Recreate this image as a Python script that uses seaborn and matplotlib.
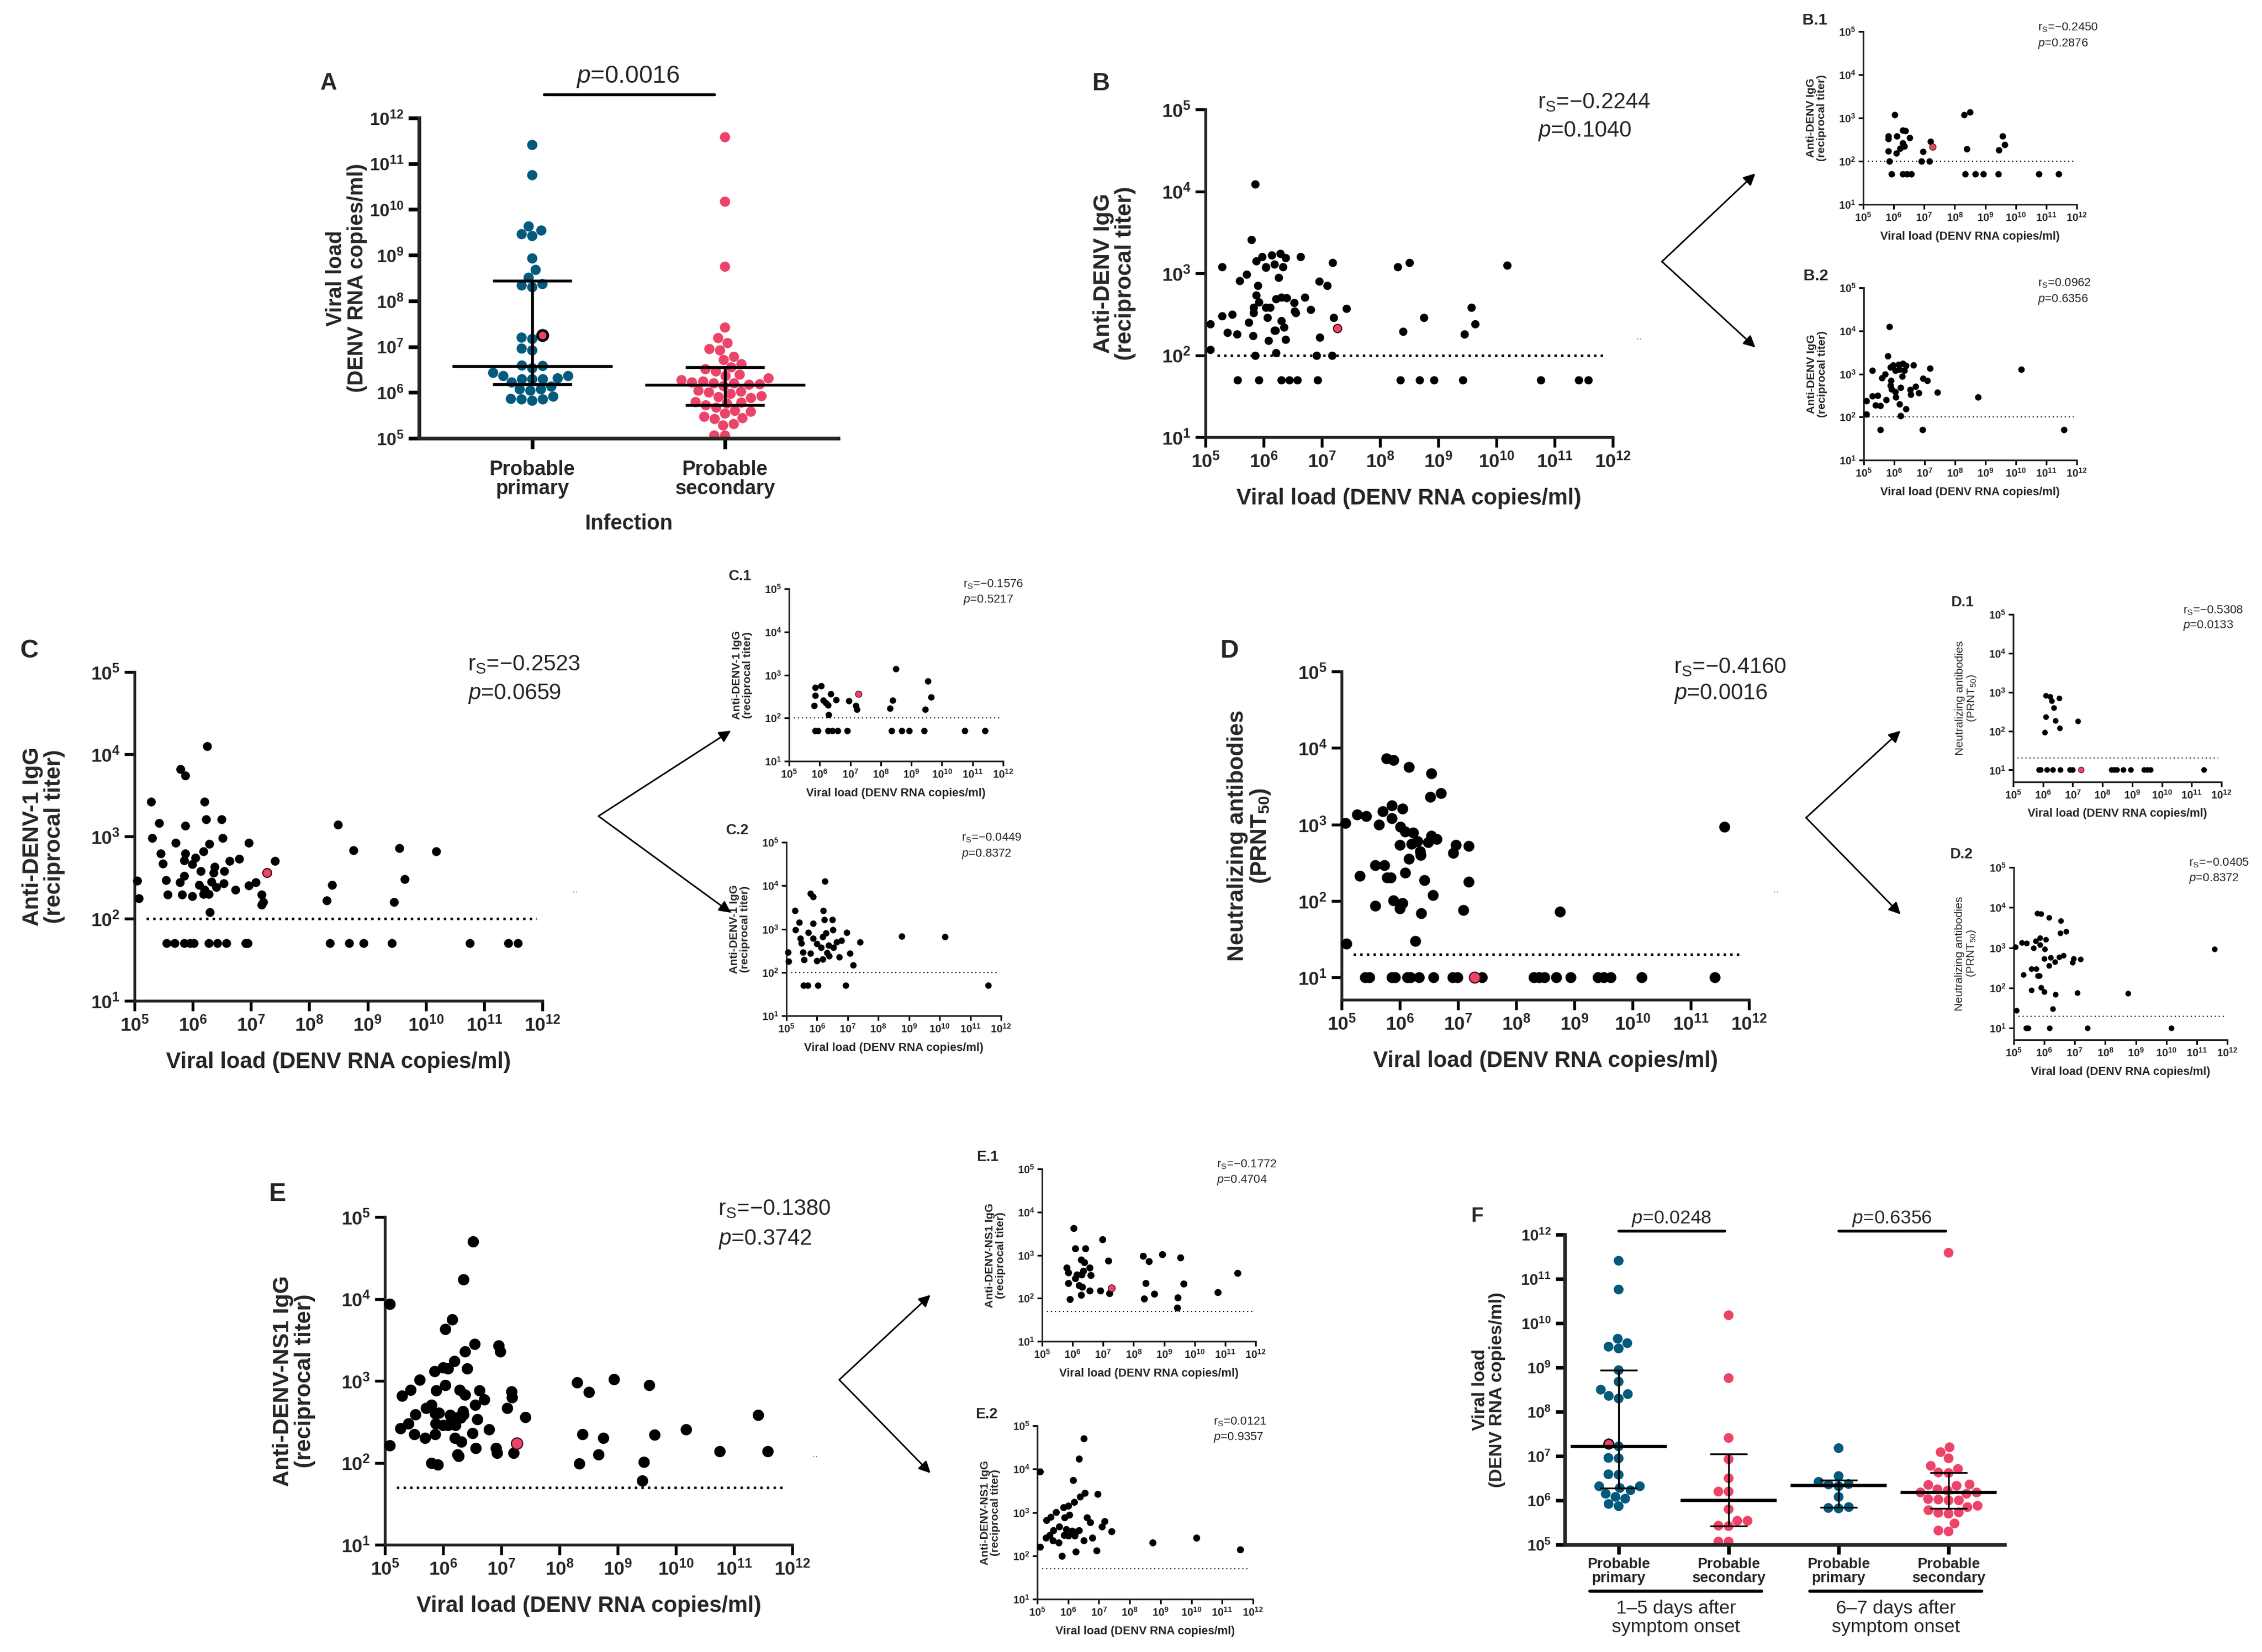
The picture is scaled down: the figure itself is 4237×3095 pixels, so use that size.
import numpy as np
import pandas as pd
import seaborn as sns
import matplotlib.pyplot as plt
from matplotlib.ticker import FixedLocator, FuncFormatter, NullLocator

W, H, DPI = 4237, 3095, 300
BLUE = "#045a7c"
PINK = "#ec4468"

# ---------------- data (log10 values) ----------------
# Panel A: viral load by infection type
a_primary = [11.41, 10.75, 9.63, 9.54, 9.46, 9.42, 8.93, 8.68, 8.51, 8.37, 8.34, 8.30,
             7.20, 7.17, 6.96, 6.92, 6.59, 6.58, 6.53, 6.43, 6.36, 6.36, 6.31, 6.29,
             6.29, 6.29, 6.22, 6.13, 6.07, 6.07, 6.04, 5.91, 5.86, 5.85, 5.85, 5.82]
a_case = 7.25
a_secondary = [11.58, 10.17, 8.75, 7.42, 7.19, 7.08, 6.95, 6.92, 6.78, 6.71, 6.62, 6.55,
               6.51, 6.46, 6.39, 6.36, 6.31, 6.27, 6.24, 6.22, 6.18, 6.17, 6.14, 6.04,
               6.02, 6.00, 5.97, 5.88, 5.79, 5.78, 5.76, 5.72, 5.67, 5.60, 5.58, 5.54,
               5.47, 5.42, 5.44, 5.31, 5.28, 5.06, 5.06, 6.20, 6.20, 5.90, 5.92]

# Panel F: viral load by day group
f_p15 = [11.41, 10.76, 9.65, 9.55, 9.47, 9.43, 8.94, 8.68, 8.50, 8.40, 8.36, 8.30, 7.22,
         6.95, 6.96, 6.59, 6.58, 6.28, 6.32, 6.32, 6.23, 6.15, 6.08, 6.04, 5.92, 5.87]
f_case = 7.28
f_s15 = [10.18, 8.76, 7.41, 6.93, 6.50, 6.20, 6.20, 5.80, 5.54, 5.54, 5.42, 5.43, 5.07, 5.07]
f_p67 = [7.18, 6.55, 6.32, 6.42, 6.36, 6.37, 6.08, 5.82, 5.85, 5.83]
f_s67 = [11.59, 7.20, 7.09, 6.95, 6.78, 6.71, 6.63, 6.62, 6.36, 6.33, 6.35, 6.25, 6.22,
         6.18, 6.18, 6.15, 6.03, 6.02, 6.00, 6.00, 5.88, 5.85, 5.78, 5.73, 5.72, 5.70,
         5.48, 5.30, 5.32]

# B.1 / B.2 anti-DENV IgG (x = viral load, y = titer)
b1_x = [6.04, 5.83, 5.83, 6.11, 6.30, 6.39, 6.53, 6.30, 6.35, 6.20, 6.08, 5.82, 5.85,
        6.96, 6.91, 7.20, 7.17, 8.30, 8.50, 8.39, 9.57, 9.63, 9.45, 5.92, 6.30, 6.44,
        6.58, 8.35, 8.68, 8.93, 9.42, 10.76, 11.41]
b1_y = [3.07, 2.58, 2.52, 2.58, 2.71, 2.70, 2.54, 2.42, 2.34, 2.30, 2.18, 2.24, 2.00,
        2.22, 2.00, 2.46, 2.00, 3.08, 3.13, 2.29, 2.58, 2.38, 2.26, 1.70, 1.70, 1.70,
        1.70, 1.70, 1.70, 1.70, 1.70, 1.70, 1.70]
b1_case = (7.27, 2.33)
b2_x = [5.85, 5.79, 5.28, 5.97, 6.14, 6.28, 6.38, 6.63, 5.87, 6.04, 6.18, 6.33, 7.18,
        5.71, 5.59, 6.26, 6.95, 7.09, 5.90, 5.87, 6.71, 6.21, 5.92, 6.04, 6.52, 6.81,
        6.55, 7.42, 5.28, 5.46, 6.06, 5.74, 5.08, 5.38, 5.54, 6.18, 6.38, 5.08, 6.21,
        8.75, 10.18, 5.55, 6.93, 11.58]
b2_y = [4.09, 3.41, 3.08, 3.20, 3.22, 3.24, 3.19, 3.20, 3.15, 3.08, 3.11, 3.08, 3.13,
        2.99, 2.91, 2.95, 2.90, 2.85, 2.85, 2.73, 2.71, 2.69, 2.65, 2.58, 2.64, 2.56,
        2.52, 2.57, 2.48, 2.50, 2.46, 2.40, 2.38, 2.28, 2.26, 2.30, 2.19, 2.07, 2.03,
        2.46, 3.10, 1.70, 1.70, 1.70]

# C.1 / C.2 anti-DENV-1 IgG
c1_x = [5.85, 6.04, 5.85, 5.82, 6.11, 6.20, 6.27, 6.36, 6.53, 6.29, 6.96, 7.18, 7.21,
        8.49, 8.39, 8.30, 9.54, 9.64, 9.45, 5.85, 5.95, 6.27, 6.42, 6.58, 6.91, 8.35,
        8.68, 8.93, 9.42, 10.75, 11.41]
c1_y = [2.71, 2.74, 2.52, 2.29, 2.41, 2.35, 2.30, 2.56, 2.43, 2.08, 2.40, 2.29, 2.20,
        3.14, 2.41, 2.22, 2.86, 2.48, 2.20, 1.70, 1.70, 1.70, 1.70, 1.70, 1.70, 1.70,
        1.70, 1.70, 1.70, 1.70, 1.70]
c1_case = (7.27, 2.56)
c2_x = [6.25, 5.79, 5.87, 5.28, 6.20, 5.42, 6.23, 6.49, 5.87, 5.30, 6.51, 5.71, 6.28,
        6.96, 5.45, 5.87, 6.18, 6.80, 5.49, 5.99, 6.14, 6.37, 6.54, 6.63, 7.41, 5.54,
        5.78, 6.32, 6.40, 6.73, 7.08, 5.05, 5.07, 5.57, 5.99, 6.18, 7.18, 8.76, 10.18,
        5.55, 5.69, 6.02, 6.94, 11.58]
c2_y = [4.10, 3.82, 3.74, 3.42, 3.42, 3.16, 3.21, 3.21, 3.13, 2.98, 2.98, 2.92, 2.91,
        2.92, 2.79, 2.79, 2.82, 2.73, 2.67, 2.66, 2.58, 2.63, 2.58, 2.70, 2.70, 2.47,
        2.44, 2.45, 2.38, 2.35, 2.44, 2.46, 2.25, 2.29, 2.27, 2.30, 2.17, 2.83, 2.82,
        1.70, 1.70, 1.70, 1.70, 1.70]

# D.1 / D.2 neutralizing antibodies (PRNT50)
d1_x = [6.09, 6.23, 6.30, 6.54, 6.36, 6.09, 6.42, 6.57, 6.05, 7.18, 5.86, 5.92, 6.13,
        6.33, 6.58, 6.91, 6.99, 8.30, 8.39, 8.49, 8.69, 8.94, 9.40, 9.50, 9.62, 11.41]
d1_y = [2.91, 2.89, 2.78, 2.85, 2.60, 2.37, 2.27, 2.08, 1.97, 2.25, 1.00, 1.00, 1.00,
        1.00, 1.00, 1.00, 1.00, 1.00, 1.00, 1.00, 1.00, 1.00, 1.00, 1.00, 1.00, 1.00]
d1_case = (7.28, 1.00)
d2_x = [5.77, 5.89, 6.16, 6.54, 6.52, 6.71, 5.27, 5.42, 5.71, 5.86, 6.05, 5.86, 5.06,
        5.64, 6.01, 6.00, 6.20, 6.49, 6.63, 6.35, 6.96, 6.92, 7.18, 6.16, 5.58, 5.73,
        5.31, 5.78, 5.84, 5.58, 5.89, 6.00, 6.37, 7.09, 8.75, 6.27, 5.08, 11.58, 5.40,
        5.48, 6.18, 7.41, 10.16]
d2_y = [3.86, 3.84, 3.75, 3.67, 3.36, 3.41, 3.13, 3.11, 3.17, 3.25, 3.21, 3.08, 3.02,
        3.00, 2.97, 2.73, 2.75, 2.77, 2.81, 2.65, 2.73, 2.63, 2.72, 2.55, 2.47, 2.47,
        2.33, 2.31, 2.31, 1.94, 2.01, 1.90, 1.84, 1.88, 1.86, 1.48, 1.44, 2.97, 1.00,
        1.00, 1.00, 1.00, 1.00]

# E.1 / E.2 anti-DENV-NS1 IgG
e1_x = [6.04, 6.08, 6.41, 6.98, 7.17, 6.28, 6.38, 5.80, 5.86, 6.14, 6.34, 6.55, 6.30,
        6.08, 6.59, 5.86, 6.20, 6.31, 6.56, 6.91, 6.27, 7.21, 5.91, 8.30, 8.50, 8.94,
        8.39, 8.34, 8.67, 9.54, 9.63, 9.45, 9.42, 10.75, 11.41]
e1_y = [3.63, 3.15, 3.15, 3.36, 2.87, 2.89, 2.83, 2.71, 2.60, 2.55, 2.63, 2.71, 2.55,
        2.46, 2.53, 2.35, 2.30, 2.26, 2.18, 2.18, 2.08, 2.12, 1.98, 2.98, 2.86, 3.02,
        2.35, 1.99, 2.10, 2.95, 2.34, 2.01, 1.78, 2.14, 2.58]
e1_case = (7.27, 2.24)
e2_x = [6.51, 6.35, 5.08, 6.16, 6.54, 6.38, 6.95, 6.19, 6.00, 5.85, 5.60, 6.04, 5.88,
        5.44, 5.29, 6.62, 6.71, 7.18, 7.10, 7.41, 5.71, 5.52, 5.93, 6.12, 6.24, 6.35,
        5.40, 5.87, 6.00, 6.21, 5.27, 5.50, 5.69, 6.50, 6.79, 5.08, 6.25, 6.93, 5.80,
        8.75, 10.17, 11.58]
e2_y = [4.70, 4.24, 3.94, 3.75, 3.45, 3.36, 3.43, 3.24, 3.16, 3.12, 3.01, 2.95, 2.88,
        2.89, 2.82, 2.88, 2.77, 2.80, 2.67, 2.56, 2.67, 2.59, 2.61, 2.58, 2.55, 2.59,
        2.48, 2.48, 2.46, 2.46, 2.42, 2.35, 2.30, 2.36, 2.41, 2.21, 2.10, 2.12, 2.00,
        2.30, 2.41, 2.14]

# Spearman results printed on each panel
stats = {
    "B": ("\u22120.2244", "0.1040"), "B.1": ("\u22120.2450", "0.2876"), "B.2": ("0.0962", "0.6356"),
    "C": ("\u22120.2523", "0.0659"), "C.1": ("\u22120.1576", "0.5217"), "C.2": ("\u22120.0449", "0.8372"),
    "D": ("\u22120.4160", "0.0016"), "D.1": ("\u22120.5308", "0.0133"), "D.2": ("\u22120.0405", "0.8372"),
    "E": ("\u22120.1380", "0.3742"), "E.1": ("\u22120.1772", "0.4704"), "E.2": ("0.0121", "0.9357"),
}

# ---------------- style ----------------
sns.set_style("ticks")
plt.rcParams["font.family"] = ["Liberation Sans", "DejaVu Sans"]
plt.rcParams["mathtext.fontset"] = "custom"
plt.rcParams["mathtext.rm"] = "Liberation Sans"
plt.rcParams["mathtext.it"] = "Liberation Sans:italic"
plt.rcParams["mathtext.bf"] = "Liberation Sans:bold"

fig = plt.figure(figsize=(W / DPI, H / DPI), dpi=DPI, facecolor="white")


def box(l, r, t, b):
    return [l / W, 1 - b / H, (r - l) / W, (b - t) / H]


decade = FuncFormatter(lambda v, pos: r"$\mathbf{10^{%d}}$" % int(round(np.log10(v))))


def style_axis(ax, lab, lw, ln, pad):
    sns.despine(ax=ax)
    for s in ("left", "bottom"):
        ax.spines[s].set_linewidth(lw)
    ax.tick_params(labelsize=lab, width=lw, length=ln, pad=pad, color="black")


def scatter_panel(px, xs, ys, case, cutoff, ylabel, size, main, ybottom=1.0, ybold=True):
    ax = fig.add_axes(box(*px))
    ax.set_xscale("log")
    ax.set_yscale("log")
    pts = pd.DataFrame({"load": 10.0 ** np.asarray(xs), "titer": 10.0 ** np.asarray(ys)})
    sns.scatterplot(data=pts, x="load", y="titer", color="black", s=size, linewidth=0,
                    ax=ax, zorder=3, clip_on=False)
    if case is not None:
        sns.scatterplot(x=[10.0 ** case[0]], y=[10.0 ** case[1]], color=PINK, s=size,
                        edgecolor="#3a0a14", linewidth=0.5 if main else 0.3, ax=ax,
                        zorder=4, clip_on=False)
    ax.set_xlim(1e5, 1e12)
    ax.set_ylim(10.0 ** ybottom, 1e5)
    ax.xaxis.set_major_locator(FixedLocator(10.0 ** np.arange(5, 13)))
    ax.yaxis.set_major_locator(FixedLocator(10.0 ** np.arange(1, 6)))
    ax.xaxis.set_minor_locator(NullLocator())
    ax.yaxis.set_minor_locator(NullLocator())
    ax.xaxis.set_major_formatter(decade)
    ax.yaxis.set_major_formatter(decade)
    if main:
        ax.hlines(cutoff, 10 ** 5.2, 10 ** 11.9, colors="black", lw=1.1,
                  linestyles=(0, (1, 1.7)), zorder=2)
        style_axis(ax, 8.5, 1.3, 4.5, 2)
        ax.set_xlabel("Viral load (DENV RNA copies/ml)", fontsize=10, fontweight="bold")
        ax.set_ylabel(ylabel, fontsize=10.3, fontweight="bold", linespacing=1.05)
    else:
        ax.hlines(cutoff, 10 ** 5.15, 10 ** 11.9, colors="black", lw=0.5,
                  linestyles=(0, (1, 2.6)), zorder=2)
        style_axis(ax, 4.8, 0.75, 2.2, 1.2)
        ax.set_xlabel("Viral load (DENV RNA copies/ml)", fontsize=5.2, fontweight="bold")
        ax.set_ylabel(ylabel, fontsize=5.1, fontweight="bold" if ybold else "normal",
                      linespacing=1.05)
    ax.yaxis.set_label_coords(-0.17, 0.5)
    ax.xaxis.set_label_coords(0.5, -0.155)
    return ax


def median_iqr(ax, i, logs, half_med, half_cap, lw_med, lw_iqr):
    q1, med, q3 = 10.0 ** np.percentile(logs, [25, 50, 75], method="weibull")
    ax.hlines(med, i - half_med, i + half_med, color="black", lw=lw_med, zorder=5)
    ax.hlines([q1, q3], i - half_cap, i + half_cap, color="black", lw=lw_iqr, zorder=5)
    ax.vlines(i, q1, q3, color="black", lw=lw_iqr, zorder=5)


def log_axis(ax, lo, hi):
    ax.set_ylim(10.0 ** lo, 10.0 ** hi)
    ax.yaxis.set_major_locator(FixedLocator(10.0 ** np.arange(lo, hi + 1)))
    ax.yaxis.set_minor_locator(NullLocator())
    ax.yaxis.set_major_formatter(decade)


# ---------------- panel A ----------------
axA = fig.add_axes(box(785, 1570, 221, 821))
a_df = pd.DataFrame({
    "group": ["pri"] * (len(a_primary) + 1) + ["sec"] * len(a_secondary),
    "load": 10.0 ** np.r_[a_primary, [a_case], a_secondary],
    "colour": ["primary"] * len(a_primary) + ["case"] + ["secondary"] * len(a_secondary),
})
sns.swarmplot(data=a_df, x="group", y="load", hue="colour", order=["pri", "sec"],
              palette={"primary": BLUE, "secondary": PINK, "case": PINK}, size=4.6,
              linewidth=0, log_scale=True, legend=False, ax=axA, zorder=2)
axA.set_xlim(-0.587, 1.587)
log_axis(axA, 5, 12)
median_iqr(axA, 0, a_primary + [a_case], 0.415, 0.205, 1.3, 1.3)
median_iqr(axA, 1, a_secondary, 0.415, 0.205, 1.3, 1.3)
style_axis(axA, 8, 1.7, 4.8, 2)
axA.set_xticks([0, 1])
axA.set_xticklabels(["Probable\nprimary", "Probable\nsecondary"], fontsize=9,
                    fontweight="bold", linespacing=1.0)
axA.tick_params(axis="x", pad=5)
axA.set_xlabel("Infection", fontsize=9.5, fontweight="bold")
axA.xaxis.set_label_coords(0.5, -0.235)
axA.set_ylabel("Viral load\n(DENV RNA copies/ml)", fontsize=9.6, fontweight="bold",
               linespacing=1.05)
axA.yaxis.set_label_coords(-0.124, 0.5)
tA = axA.get_xaxis_transform()
axA.plot([0.06, 0.945], [1.073, 1.073], transform=tA, color="black", lw=1.3, clip_on=False)
axA.text(0.496, 1.128, r"$\mathit{p}$=0.0016", transform=tA, ha="center", va="center",
         fontsize=11)

# ---------------- panel F ----------------
axF = fig.add_axes(box(2931, 3755, 2313, 2894))
groups = ["p15", "s15", "p67", "s67"]
f_vals = [f_p15 + [f_case], f_s15, f_p67, f_s67]
f_df = pd.DataFrame({
    "group": sum([[g] * len(v) for g, v in zip(groups, f_vals)], []),
    "load": 10.0 ** np.concatenate(f_vals),
    "colour": ["primary"] * len(f_p15) + ["case"] + ["secondary"] * len(f_s15)
              + ["primary"] * len(f_p67) + ["secondary"] * len(f_s67),
})
sns.swarmplot(data=f_df, x="group", y="load", hue="colour", order=groups,
              palette={"primary": BLUE, "secondary": PINK, "case": PINK}, size=4.4,
              linewidth=0, log_scale=True, legend=False, ax=axF, zorder=2)
axF.set_xlim(-0.49, 3.51)
log_axis(axF, 5, 12)
for i, v in enumerate(f_vals):
    median_iqr(axF, i, v, 0.435, 0.17, 1.5, 0.8)
style_axis(axF, 7, 1.6, 4.2, 2)
axF.set_xticks(range(4))
axF.set_xticklabels(["Probable\nprimary", "Probable\nsecondary"] * 2, fontsize=6.6,
                    fontweight="bold", linespacing=1.0)
axF.tick_params(axis="x", pad=1.5)
axF.set_xlabel("")
axF.set_ylabel("Viral load\n(DENV RNA copies/ml)", fontsize=8.2, fontweight="bold",
               linespacing=1.05)
axF.yaxis.set_label_coords(-0.135, 0.5)
tF = axF.get_xaxis_transform()
for (x0, x1), ptxt in zip([(0.0, 0.96), (2.0, 2.97)], ["0.0248", "0.6356"]):
    axF.plot([x0, x1], [1.012, 1.012], transform=tF, color="black", lw=1.3, clip_on=False)
    axF.text((x0 + x1) / 2, 1.05, r"$\mathit{p}$=" + ptxt, transform=tF, ha="center",
             va="center", fontsize=8.5)
for (x0, x1), gtxt in zip([(-0.26, 1.30), (1.74, 3.30)],
                          ["1\u20135 days after\nsymptom onset", "6\u20137 days after\nsymptom onset"]):
    axF.plot([x0, x1], [-0.15, -0.15], transform=tF, color="black", lw=1.4, clip_on=False)
    axF.text((x0 + x1) / 2, -0.236, gtxt, transform=tF, ha="center", va="center",
             fontsize=8.5, linespacing=1.05)

# ---------------- scatter panels ----------------
lab_b = "Anti-DENV IgG\n(reciprocal titer)"
lab_c = "Anti-DENV-1 IgG\n(reciprocal titer)"
lab_d = "Neutralizing antibodies\n(PRNT$_{\\mathbf{50}}$)"
lab_d_sub = "Neutralizing antibodies\n(PRNT$_{50}$)"
lab_e = "Anti-DENV-NS1 IgG\n(reciprocal titer)"

scatter_panel((2258, 3021, 205, 819), b1_x + b2_x, b1_y + b2_y, b1_case, 100, lab_b, 14, True)
scatter_panel((3490, 3890, 59, 383), b1_x, b1_y, b1_case, 100, lab_b, 8.5, False)
scatter_panel((3491, 3890, 539, 862), b2_x, b2_y, None, 100, lab_b, 8.5, False)

scatter_panel((252, 1016, 1259, 1875), c1_x + c2_x, c1_y + c2_y, c1_case, 100, lab_c, 16, True)
scatter_panel((1478, 1879, 1103, 1426), c1_x, c1_y, c1_case, 100, lab_c, 8.5, False)
scatter_panel((1473, 1875, 1578, 1903), c2_x, c2_y, None, 100, lab_c, 8.5, False)

scatter_panel((2513, 3276, 1258, 1873), d1_x + d2_x, d1_y + d2_y, d1_case, 20, lab_d, 24, True,
              ybottom=0.71)
scatter_panel((3771, 4161, 1151, 1465), d1_x, d1_y, d1_case, 20, lab_d_sub, 6.5, False,
              ybottom=0.69, ybold=False)
scatter_panel((3772, 4172, 1625, 1948), d2_x, d2_y, None, 20, lab_d_sub, 6.5, False,
              ybottom=0.71, ybold=False)

scatter_panel((721, 1484, 2280, 2894), e1_x + e2_x, e1_y + e2_y, e1_case, 50, lab_e, 26, True)
scatter_panel((1952, 2352, 2190, 2513), e1_x, e1_y, e1_case, 50, lab_e, 10, False)
scatter_panel((1943, 2347, 2671, 2996), e2_x, e2_y, None, 50, lab_e, 10, False)

# ---------------- highlight ring on the swarm points ----------------
fig.canvas.draw()
for ax, val, sz, lw in [(axA, a_case, 4.6, 1.2), (axF, f_case, 4.4, 0.6)]:
    for coll in list(ax.collections):
        off = np.asarray(coll.get_offsets())
        if off.ndim != 2 or len(off) == 0:
            continue
        hit = np.isclose(off[:, 1], 10.0 ** val)
        if hit.any():
            ax.scatter(off[hit, 0], off[hit, 1], s=sz ** 2, facecolor=PINK,
                       edgecolor="black", linewidth=lw, zorder=4)

# ---------------- overlay: letters, stats, arrows ----------------
ov = fig.add_axes([0, 0, 1, 1])
ov.set_xlim(0, W)
ov.set_ylim(H, 0)
ov.axis("off")

letters = [("A", 616, 156, 10.5), ("B", 2062, 157, 11), ("C", 55, 1220, 11.5),
           ("D", 2303, 1220, 11.5), ("E", 520, 2237, 11.5), ("F", 2767, 2279, 9),
           ("B.1", 3399, 38, 7.2), ("B.2", 3401, 517, 7.2), ("C.1", 1386, 1080, 6.6),
           ("C.2", 1381, 1556, 6.6), ("D.1", 3676, 1129, 6.6), ("D.2", 3674, 1601, 6.6),
           ("E.1", 1850, 2168, 6.6), ("E.2", 1848, 2650, 6.6)]
for txt, x, y, fs in letters:
    ov.text(x, y, txt, ha="center", va="center", fontsize=fs, fontweight="bold")

stat_pos = {"B": (2880, 192, 246), "B.1": (3817, 52, 82), "B.2": (3817, 531, 561),
            "C": (876, 1245, 1300), "C.1": (1804, 1095, 1124), "C.2": (1801, 1570, 1600),
            "D": (3135, 1250, 1300), "D.1": (4089, 1144, 1172), "D.2": (4100, 1617, 1646),
            "E": (1345, 2265, 2322), "E.1": (2279, 2182, 2211), "E.2": (2273, 2664, 2693)}
for key, (x, y1, y2) in stat_pos.items():
    rs, pv = stats[key]
    fs = 10 if "." not in key else 5.3
    ov.text(x, y1, r"r$_\mathregular{S}$=" + rs, ha="left", va="center", fontsize=fs)
    ov.text(x, y2, r"$\mathit{p}$=" + pv, ha="left", va="center", fontsize=fs)

arrows = [((3113, 490), (3288, 325)), ((3113, 490), (3288, 651)),
          ((1121, 1529), (1369, 1369)), ((1121, 1529), (1369, 1710)),
          ((3383, 1532), (3560, 1369)), ((3383, 1532), (3560, 1713)),
          ((1572, 2585), (1743, 2426)), ((1572, 2585), (1743, 2760))]
for start, end in arrows:
    ov.annotate("", xy=end, xytext=start,
                arrowprops=dict(arrowstyle="-|>", color="black", lw=0.7,
                                mutation_scale=11, shrinkA=0, shrinkB=0))

for x, y in [(3071, 635), (1078, 1671), (3327, 1671), (1527, 2729)]:
    ov.text(x, y, "\u00b7\u00b7", ha="center", va="center", fontsize=4, color="0.35")

fig.savefig("out.png", dpi=DPI, facecolor="white")
